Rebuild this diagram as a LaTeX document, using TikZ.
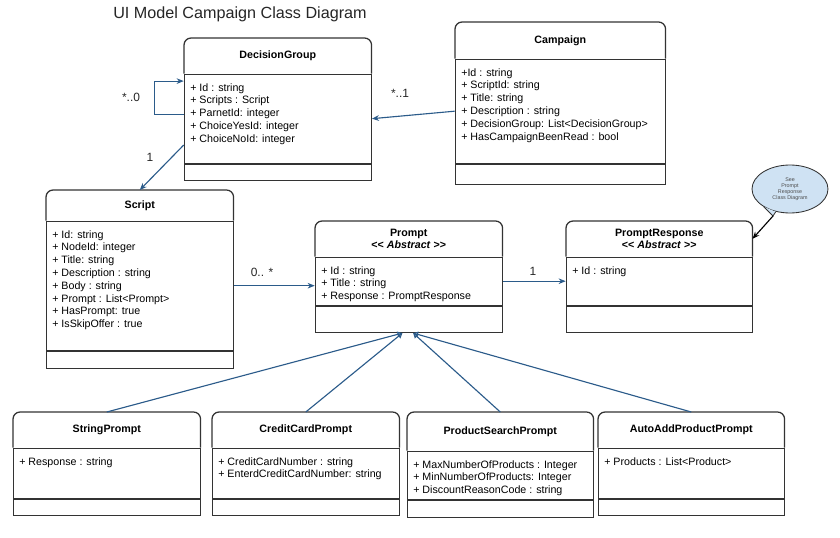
\documentclass[tikz,border=0pt]{standalone}
\usepackage{fontspec}
\setmainfont{Liberation Sans}
\usetikzlibrary{positioning, calc, arrows.meta, shapes.geometric}
\definecolor{umlblue}{HTML}{2B5B8A}
\definecolor{boxline}{HTML}{333333}
\definecolor{notefill}{HTML}{CFE2F3}
\newcommand{\attrs}[3]{\parbox[t][#2][t]{#1}{\vspace*{.2cm}\strut #3}}
\tikzset{
  clshead/.style 2 args={anchor=north west,minimum width=#1,minimum height=#2,inner sep=0pt,align=center,
    font=\bfseries\fontsize{7.6}{8.6}\selectfont},
  clsattr/.style={draw=boxline,line width=.9pt,inner sep=0pt,inner xsep=.15cm,font=\fontsize{7.6}{9.1}\selectfont},
  clsops/.style 2 args={draw=boxline,line width=.9pt,inner sep=0pt,minimum width=#1,minimum height=#2},
  clsframe/.style={draw=boxline,line width=.9pt,rounded corners=5pt},
  assoc/.style={draw=umlblue,line width=.8pt,-{Stealth[length=5pt,width=4pt]}},
  inherit/.style={draw=umlblue,line width=.8pt,-{Triangle[open,length=3.5pt,width=4pt]}},
  mult/.style={font=\fontsize{8.5}{9}\selectfont,text=black!85},
  note/.style={ellipse,draw=boxline,fill=notefill,line width=.6pt,minimum width=1.9cm,minimum height=1.2cm,
    inner sep=0pt,align=center,text=black!70,font=\fontsize{3.8}{4.4}\selectfont},
  notearrow/.style={draw=black,line width=.8pt,-{Stealth[length=5pt,width=4pt]}},
}
\begin{document}
\begin{tikzpicture}
    \fill[white] (0,0) rectangle (21,-13.45);
    \useasboundingbox (0,0) rectangle (21,-13.45);
    \node[font=\fontsize{11.5}{13}\selectfont,text=black!85] (title) at (6.0,-.35) {UI Model Campaign Class Diagram};

    \node[clshead={4.675cm}{.875cm}] (dg) at (4.6,-.95) {DecisionGroup};
    \node[clsattr,below=0pt of dg] (dga) {\attrs{4.375cm}{2.225cm}{+ Id : string\\+ Scripts : Script\\+ ParnetId: integer\\+ ChoiceYesId: integer\\+ ChoiceNoId: integer}};
    \node[clsops={4.675cm}{.4cm},below=0pt of dga] (dgo) {};

    \node[clshead={5.25cm}{.9cm}] (cp) at (11.375,-.55) {Campaign};
    \node[clsattr,below=0pt of cp] (cpa) {\attrs{4.95cm}{2.6cm}{+Id : string\\+ ScriptId: string\\+ Title: string\\+ Description : string\\+ DecisionGroup: List<DecisionGroup>\\+ HasCampaignBeenRead : bool}};
    \node[clsops={5.25cm}{.5cm},below=0pt of cpa] (cpo) {};

    \node[clshead={4.675cm}{.75cm}] (sc) at (1.15,-4.75) {Script};
    \node[clsattr,below=0pt of sc] (sca) {\attrs{4.375cm}{3.225cm}{+ Id: string\\+ NodeId: integer\\+ Title: string\\+ Description : string\\+ Body : string\\+ Prompt : List<Prompt>\\+ HasPrompt: true\\+ IsSkipOffer : true}};
    \node[clsops={4.675cm}{.425cm},below=0pt of sca] (sco) {};

    \node[clshead={4.675cm}{.875cm}] (pr) at (7.875,-5.525) {Prompt\\<{}< \textit{Abstract} >{}>};
    \node[clsattr,below=0pt of pr] (pra) {\attrs{4.375cm}{1.2cm}{+ Id : string\\+ Title : string\\+ Response : PromptResponse}};
    \node[clsops={4.675cm}{.65cm},below=0pt of pra] (pro) {};

    \node[clshead={4.65cm}{.875cm}] (rs) at (14.15,-5.525) {PromptResponse\\<{}< \textit{Abstract} >{}>};
    \node[clsattr,below=0pt of rs] (rsa) {\attrs{4.35cm}{1.2cm}{+ Id : string}};
    \node[clsops={4.65cm}{.65cm},below=0pt of rsa] (rso) {};

    \node[clshead={4.675cm}{.875cm}] (sp) at (.325,-10.3) {StringPrompt};
    \node[clsattr,below=0pt of sp] (spa) {\attrs{4.375cm}{1.25cm}{+ Response : string}};
    \node[clsops={4.675cm}{.4cm},below=0pt of spa] (spo) {};

    \node[clshead={4.675cm}{.875cm}] (ccp) at (5.3,-10.3) {CreditCardPrompt};
    \node[clsattr,below=0pt of ccp] (ccpa) {\attrs{4.375cm}{1.25cm}{+ CreditCardNumber : string\\+ EnterdCreditCardNumber: string}};
    \node[clsops={4.675cm}{.4cm},below=0pt of ccpa] (ccpo) {};

    \node[clshead={4.65cm}{.95cm}] (psp) at (10.175,-10.3) {ProductSearchPrompt};
    \node[clsattr,below=0pt of psp] (pspa) {\attrs{4.35cm}{1.2cm}{+ MaxNumberOfProducts : Integer\\+ MinNumberOfProducts: Integer\\+ DiscountReasonCode : string}};
    \node[clsops={4.65cm}{.425cm},below=0pt of pspa] (pspo) {};

    \node[clshead={4.65cm}{.875cm}] (aap) at (14.95,-10.3) {AutoAddProductPrompt};
    \node[clsattr,below=0pt of aap] (aapa) {\attrs{4.35cm}{1.25cm}{+ Products : List<Product>}};
    \node[clsops={4.65cm}{.4cm},below=0pt of aapa] (aapo) {};

    \foreach \c in {dg,cp,sc,pr,rs,sp,ccp,psp,aap}
      \draw[clsframe] (\c.south west) -- (\c.north west) -- (\c.north east) -- (\c.south east);

    \draw[assoc] (cpa.west) -- (dga.east);
    \draw[assoc] ([yshift=.11cm]dga.west) -- ++(-.725,0) |- ([yshift=.94cm]dga.west);
    \draw[assoc] ([yshift=-.66cm]dga.west) -- (sc.north);
    \draw[assoc] (sca.east) -- (sca.east -| pra.west);
    \draw[assoc] (pra.east) -- (rsa.west);
    \node[mult] (m1) at (3.275,-2.425) {*..0};
    \node[mult] (m2) at (10.0,-2.325) {*..1};
    \node[mult] (m3) at (3.75,-3.925) {1};
    \node[mult] (m4) at (6.55,-6.8) {0.. *};
    \node[mult] (m5) at (13.325,-6.775) {1};

    \draw[inherit] (sp.north) -- ([xshift=-.16cm]pro.south);
    \draw[inherit] (ccp.north) -- ([xshift=-.16cm]pro.south);
    \draw[inherit] (psp.north) -- ([xshift=.11cm]pro.south);
    \draw[inherit] (aap.north) -- ([xshift=.11cm]pro.south);

    \node[note] (see) at (19.75,-4.725) {See\\Prompt\\Response\\Class Diagram};
    \coordinate (tip) at (19.325,-5.4);
    \draw[draw=boxline,fill=notefill,line width=.6pt] (see.214) -- (tip) -- (see.238);
    \draw[notearrow] (tip) -- (rs.east);
\end{tikzpicture}
\end{document}
